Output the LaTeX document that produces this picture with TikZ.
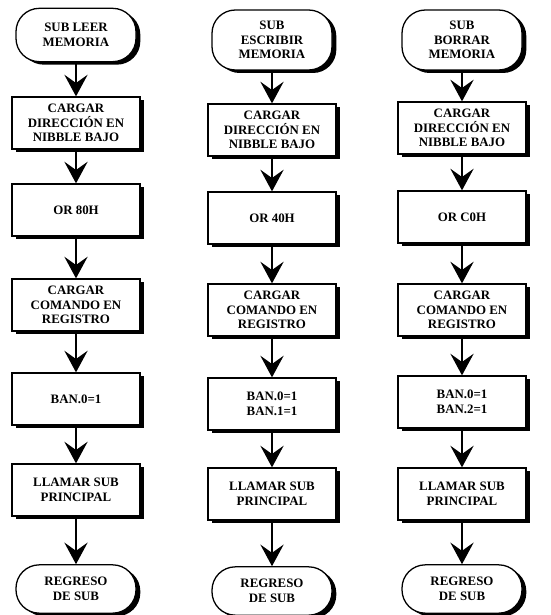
\documentclass[tikz,border=0pt]{standalone}
\usepackage{fontspec}
\setmainfont{Liberation Serif}
\usepackage{tikz}
\usetikzlibrary{arrows.meta,shadows}
\usepackage{xcolor}

\begin{document}
\begin{tikzpicture}[>={Stealth[length=6.5mm,width=7mm,inset=2.5mm]},
  font=\fontsize{11}{12.5}\selectfont\bfseries,line cap=round,
  caja/.style={draw,line width=1.1pt,fill=white,align=center,
    minimum width=3.84cm,minimum height=1.56cm,
    drop shadow={shadow xshift=0.13cm,shadow yshift=-0.09cm,fill=black,opacity=1}},
  term/.style={caja,rounded corners=0.7cm,minimum width=3.6cm,minimum height=1.6cm},
  flecha/.style={->,line width=1pt}]
\useasboundingbox (0,0) rectangle (16.5,-18.45);
% sub leer memoria
\node[term] (l1) at (2.28,-1.05) {SUB LEER\\MEMORIA};
\node[caja] (l2) at (2.28,-3.69) {CARGAR\\DIRECCIÓN EN\\NIBBLE BAJO};
\node[caja] (l3) at (2.28,-6.30) {OR 80H};
\node[caja] (l4) at (2.28,-9.15) {CARGAR\\COMANDO EN\\REGISTRO};
\node[caja] (l5) at (2.28,-11.97) {BAN.0=1};
\node[caja] (l6) at (2.28,-14.70) {LLAMAR SUB\\PRINCIPAL};
\node[term,minimum height=1.45cm] (l7) at (2.28,-17.67) {REGRESO\\DE SUB};
\draw[flecha] (l1) -- (l2);
\draw[flecha] (l2) -- (l3);
\draw[flecha] (l3) -- (l4);
\draw[flecha] (l4) -- (l5);
\draw[flecha] (l5) -- (l6);
\draw[flecha] (l6) -- (l7);
% sub escribir memoria
\node[term,minimum height=1.8cm] (e1) at (8.16,-1.20) {SUB\\ESCRIBIR\\MEMORIA};
\node[caja] (e2) at (8.16,-3.90) {CARGAR\\DIRECCIÓN EN\\NIBBLE BAJO};
\node[caja] (e3) at (8.16,-6.54) {OR 40H};
\node[caja] (e4) at (8.16,-9.30) {CARGAR\\COMANDO EN\\REGISTRO};
\node[caja] (e5) at (8.16,-12.12) {BAN.0=1\\BAN.1=1};
\node[caja] (e6) at (8.16,-14.82) {LLAMAR SUB\\PRINCIPAL};
\node[term,minimum height=1.45cm] (e7) at (8.16,-17.73) {REGRESO\\DE SUB};
\draw[flecha] (e1) -- (e2);
\draw[flecha] (e2) -- (e3);
\draw[flecha] (e3) -- (e4);
\draw[flecha] (e4) -- (e5);
\draw[flecha] (e5) -- (e6);
\draw[flecha] (e6) -- (e7);
% sub borrar memoria
\node[term,minimum height=1.8cm] (b1) at (13.86,-1.20) {SUB\\BORRAR\\MEMORIA};
\node[caja] (b2) at (13.86,-3.84) {CARGAR\\DIRECCIÓN EN\\NIBBLE BAJO};
\node[caja] (b3) at (13.86,-6.51) {OR C0H};
\node[caja] (b4) at (13.86,-9.30) {CARGAR\\COMANDO EN\\REGISTRO};
\node[caja] (b5) at (13.86,-12.06) {BAN.0=1\\BAN.2=1};
\node[caja] (b6) at (13.86,-14.82) {LLAMAR SUB\\PRINCIPAL};
\node[term,minimum height=1.45cm] (b7) at (13.86,-17.67) {REGRESO\\DE SUB};
\draw[flecha] (b1) -- (b2);
\draw[flecha] (b2) -- (b3);
\draw[flecha] (b3) -- (b4);
\draw[flecha] (b4) -- (b5);
\draw[flecha] (b5) -- (b6);
\draw[flecha] (b6) -- (b7);
\end{tikzpicture}
\end{document}
